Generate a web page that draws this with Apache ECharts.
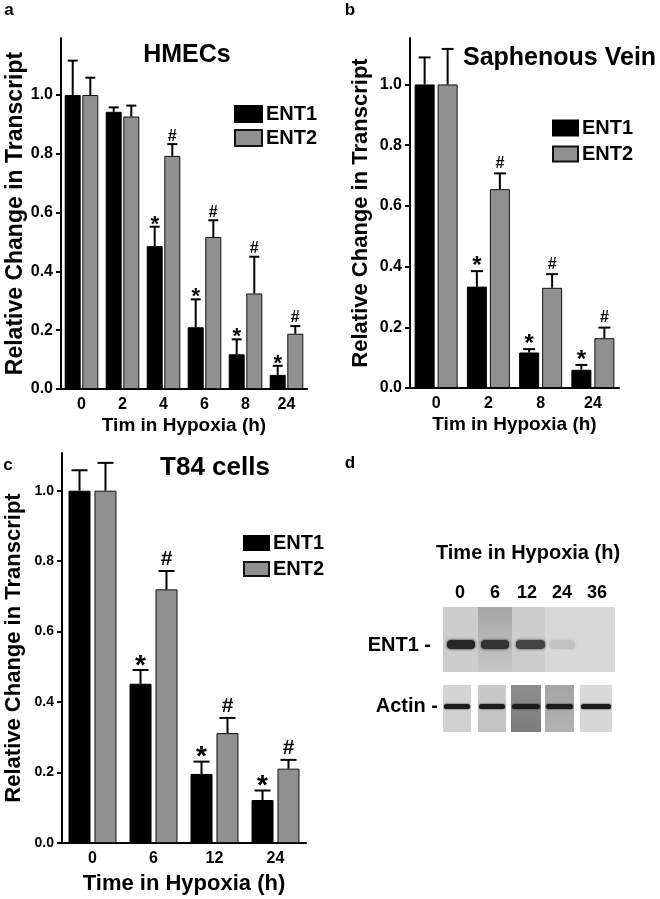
<!DOCTYPE html>
<html><head><meta charset="utf-8">
<script src="https://cdn.jsdelivr.net/npm/echarts@6/dist/echarts.min.js"></script>
<style>html,body{margin:0;padding:0;background:#fff}#c{width:660px;height:899px}</style>
</head><body><div id="c"></div>
<script>
// ---------- data ----------
const yTicks = [0, 0.2, 0.4, 0.6, 0.8, 1.0];
const seriesNames = ['ENT1', 'ENT2'];

const catsA = ['0', '2', '4', '6', '8', '24'];
const ent1A = [1.0, 0.943, 0.486, 0.21, 0.118, 0.048];
const err1A = [0.117, 0.015, 0.066, 0.095, 0.051, 0.031];
const ent2A = [1.0, 0.927, 0.793, 0.517, 0.325, 0.188];
const err2A = [0.059, 0.037, 0.04, 0.057, 0.125, 0.026];
const mark1A = ['', '', '*', '*', '*', '*'];
const mark2A = ['', '', '#', '#', '#', '#'];

const catsB = ['0', '2', '8', '24'];
const ent1B = [1.0, 0.334, 0.117, 0.06];
const err1B = [0.089, 0.051, 0.011, 0.016];
const ent2B = [1.0, 0.655, 0.33, 0.164];
const err2B = [0.117, 0.052, 0.045, 0.035];
const mark1B = ['', '*', '*', '*'];
const mark2B = ['', '#', '#', '#'];

const catsC = ['0', '6', '12', '24'];
const ent1C = [1.0, 0.452, 0.196, 0.122];
const err1C = [0.058, 0.039, 0.035, 0.027];
const ent2C = [1.0, 0.72, 0.312, 0.211];
const err2C = [0.079, 0.052, 0.043, 0.025];
const mark1C = ['', '*', '*', '*'];
const mark2C = ['', '#', '#', '#'];

const blotLanes = ['0', '6', '12', '24', '36'];

// ---------- helpers ----------
const F = '"Liberation Sans", Arial, Helvetica, sans-serif';
const bold = s => 'bold ' + s + 'px ' + F;
const GRAY = '#909090';

function yAxis(gi, max, labelSize, nameGap, nameSize) {
  return {
    type: 'value', gridIndex: gi, min: 0, max: max, interval: 0.2,
    axisLine: { show: true, lineStyle: { color: '#000', width: 2 } },
    axisTick: { show: true, length: 5, customValues: yTicks, lineStyle: { color: '#000', width: 2 } },
    axisLabel: { customValues: yTicks, formatter: v => v.toFixed(1), fontSize: labelSize, fontWeight: 'bold', fontFamily: F, color: '#000', margin: 8 },
    splitLine: { show: false },
    name: 'Relative Change in Transcript', nameLocation: 'middle', nameRotate: 90, nameGap: nameGap,
    nameTextStyle: { fontSize: nameSize, fontWeight: 'bold', fontFamily: F, color: '#000' }
  };
}
function xAxis(gi, cats, labelSize, name, nameGap, nameSize) {
  return {
    type: 'category', gridIndex: gi, data: cats,
    axisLine: { show: true, lineStyle: { color: '#000', width: 2 } },
    axisTick: { show: false },
    axisLabel: { fontSize: labelSize, fontWeight: 'bold', fontFamily: F, color: '#000', margin: 8 },
    name: name, nameLocation: 'middle', nameGap: nameGap,
    nameTextStyle: { fontSize: nameSize, fontWeight: 'bold', fontFamily: F, color: '#000' }
  };
}
function bars(gi, v1, v2, bw, gapPct) {
  return [
    { type: 'bar', name: 'ENT1', xAxisIndex: gi, yAxisIndex: gi, data: v1, barWidth: bw, barGap: gapPct + '%', z: 2,
      itemStyle: { color: '#000', borderColor: '#000', borderWidth: 1 } },
    { type: 'bar', name: 'ENT2', xAxisIndex: gi, yAxisIndex: gi, data: v2, barWidth: bw, barGap: gapPct + '%', z: 2,
      itemStyle: { color: GRAY, borderColor: '#111', borderWidth: 1 } }
  ];
}
function errs(gi, id, vals, es, marks, offset, capHalf, markSize, markRaise) {
  return {
    type: 'custom', name: id, xAxisIndex: gi, yAxisIndex: gi, z: 5,
    data: vals.map((v, i) => [i, v, es[i]]),
    renderItem: function (params, api) {
      const i = api.value(0), v = api.value(1), e = api.value(2);
      const b = api.coord([i, v]), t = api.coord([i, v + e]);
      const x = b[0] + offset;
      const ch = [
        { type: 'line', shape: { x1: x, y1: b[1], x2: x, y2: t[1] }, style: { stroke: '#000', lineWidth: 2 } },
        { type: 'line', shape: { x1: x - capHalf, y1: t[1], x2: x + capHalf, y2: t[1] }, style: { stroke: '#000', lineWidth: 2 } }
      ];
      const m = marks[params.dataIndex];
      if (m) ch.push({ type: 'text', x: x, y: t[1] - markRaise,
        style: { text: m, font: bold(markSize), fill: '#000', align: 'center', verticalAlign: 'middle' } });
      return { type: 'group', children: ch };
    }
  };
}
function legend(left, top, iw, ih, gap, fs) {
  return { left: left, top: top, orient: 'vertical', itemWidth: iw, itemHeight: ih, itemGap: gap, padding: 0,
    icon: 'rect', selectedMode: false, data: seriesNames,
    textStyle: { fontSize: fs, fontWeight: 'bold', fontFamily: F, color: '#000', lineHeight: ih, padding: [0, 0, 0, -1] } };
}
function txt(x, y, s, size, align) {
  return { type: 'text', x: x, y: y, style: { text: s, font: bold(size), fill: '#000', align: align || 'center', verticalAlign: 'middle' } };
}

// bar geometry
const bwA = 16, gA = 10, offA = bwA * (1 + gA / 100) / 2;
const bwB = 20, gB = 15, offB = bwB * (1 + gB / 100) / 2;
const bwC = 22, gC = 18, offC = bwC * (1 + gC / 100) / 2;

// blot drawing (panel d, picture)
const blot = [];
blot.push({ type: 'rect', shape: { x: 443, y: 607, width: 172, height: 65 }, style: { fill: '#cdcdcd' } });
blot.push({ type: 'rect', shape: { x: 478, y: 607, width: 34, height: 65 },
  style: { fill: new echarts.graphic.LinearGradient(0, 0, 0, 1, [{ offset: 0, color: '#a6a6a6' }, { offset: 1, color: '#c6c6c6' }]) } });
blot.push({ type: 'rect', shape: { x: 545, y: 607, width: 70, height: 65 }, style: { fill: '#d8d8d8' } });
[[447, 28, '#262626'], [481, 28, '#343434'], [516, 29, '#444444'], [550, 25, '#c2c2c2']].forEach(b => {
  blot.push({ type: 'rect', shape: { x: b[0], y: 640, width: b[1], height: 9, r: 4 },
    style: { fill: b[2], shadowBlur: 3, shadowColor: b[2] } });
});
[[443, 28, '#d5d5d5', '#d0d0d0'], [478, 28, '#c9c9c9', '#c2c2c2'], [511, 30, '#8e8e8e', '#7c7c7c'],
 [545, 29, '#a4a4a4', '#b2b2b2'], [580, 32, '#dadada', '#d6d6d6']].forEach(l => {
  blot.push({ type: 'rect', shape: { x: l[0], y: 685, width: l[1], height: 47 },
    style: { fill: new echarts.graphic.LinearGradient(0, 0, 0, 1, [{ offset: 0, color: l[2] }, { offset: 1, color: l[3] }]) } });
  blot.push({ type: 'rect', shape: { x: l[0] + 1, y: 704, width: l[1] - 2, height: 5, r: 2.5 },
    style: { fill: '#1c1c1c', shadowBlur: 2, shadowColor: '#1c1c1c' } });
});
blot.push(txt(528, 553, 'Time in Hypoxia (h)', 20));
const laneX = [460, 495, 527, 562, 597];
blotLanes.forEach((l, i) => blot.push(txt(laneX[i], 593, l, 18)));
blot.push(txt(431, 645, 'ENT1 -', 20, 'right'));
blot.push(txt(438, 706, 'Actin -', 20, 'right'));

const chart = echarts.init(document.getElementById('c'), null, { renderer: 'canvas' });
chart.setOption({
  animation: false,
  backgroundColor: '#fff',
  grid: [
    { left: 61, top: 38, width: 246, height: 351, containLabel: false },
    { left: 410, top: 38, width: 209, height: 350, containLabel: false },
    { left: 62, top: 453, width: 244, height: 390, containLabel: false }
  ],
  xAxis: [
    xAxis(0, catsA, 16, 'Tim in Hypoxia (h)', 27, 19),
    xAxis(1, catsB, 16, 'Tim in Hypoxia (h)', 27, 19),
    xAxis(2, catsC, 16, 'Time in Hypoxia (h)', 30, 22)
  ],
  yAxis: [
    yAxis(0, 1.194, 16, 34, 23),
    yAxis(1, 1.153, 16, 38, 22),
    yAxis(2, 1.107, 14, 37, 22)
  ],
  legend: [
    legend(234, 104, 27, 16, 4, 20),
    legend(552, 118, 25, 15, 6, 20),
    legend(243, 533, 25, 14, 6, 20)
  ],
  series: [
    ...bars(0, ent1A, ent2A, bwA, gA),
    errs(0, 'errA1', ent1A, err1A, mark1A, -offA, 5, 22, 2),
    errs(0, 'errA2', ent2A, err2A, mark2A, offA, 5, 16, 8),
    ...bars(1, ent1B, ent2B, bwB, gB),
    errs(1, 'errB1', ent1B, err1B, mark1B, -offB, 6, 24, 5),
    errs(1, 'errB2', ent2B, err2B, mark2B, offB, 6, 16, 10),
    ...bars(2, ent1C, ent2C, bwC, gC),
    errs(2, 'errC1', ent1C, err1C, mark1C, -offC, 8, 28, 4),
    errs(2, 'errC2', ent2C, err2C, mark2C, offC, 8, 21, 12)
  ],
  graphic: [
    txt(9, 10, 'a', 17), txt(350, 10, 'b', 17), txt(8, 465, 'c', 17), txt(350, 463, 'd', 17),
    txt(187, 55, 'HMECs', 25),
    txt(463, 58, 'Saphenous Vein', 25, 'left'),
    txt(215, 468, 'T84 cells', 26),
    ...blot
  ]
});
</script></body></html>
